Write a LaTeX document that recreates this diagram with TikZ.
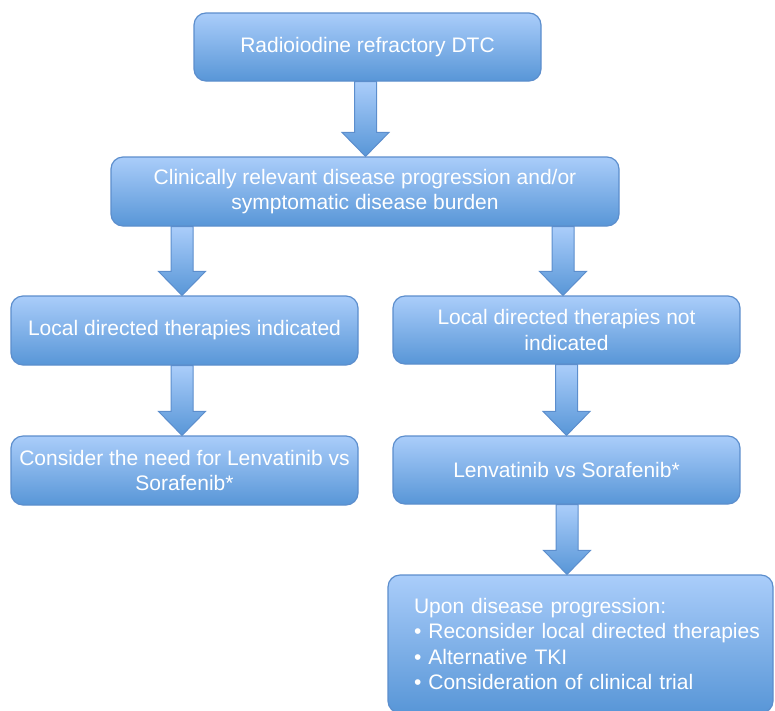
\documentclass[tikz,border=0pt]{standalone}
\usepackage{fontspec}
\setmainfont{Liberation Sans}
\usetikzlibrary{calc}
\definecolor{boxtop}{RGB}{170,205,250}
\definecolor{boxbottom}{RGB}{88,150,215}
\definecolor{boxline}{RGB}{92,142,205}
\tikzset{
  flowbox/.style={draw=boxline, line width=1.2pt, rounded corners=12pt,
    top color=boxtop, bottom color=boxbottom, text=white, align=center,
    inner sep=2pt, minimum width=347pt, minimum height=68pt,
    font=\fontsize{21}{25.5}\selectfont},
  blockarrow/.style={draw=boxline, line width=1pt, line join=miter,
    top color=boxtop, bottom color=boxbottom}
}
\newcommand{\blockarrow}[3][0pt]{%
  \path[blockarrow] let \p1=(#2.south), \p2=(#3.north) in
    (\x2+#1-11pt,\y1) -- (\x2+#1+11pt,\y1) -- (\x2+#1+11pt,\y2+24pt)
    -- (\x2+#1+23.5pt,\y2+24pt) -- (\x2+#1,\y2) -- (\x2+#1-23.5pt,\y2+24pt)
    -- (\x2+#1-11pt,\y2+24pt) -- cycle;}
\newcommand{\tabin}{\hspace*{13pt}}
\begin{document}
\begin{tikzpicture}[x=1pt, y=-1pt]
  \useasboundingbox (0,0) rectangle (775,710);

  \node[flowbox] (rai) at (367.5,47) {Radioiodine refractory DTC};
  \node[flowbox, minimum width=508pt, minimum height=69pt] (prog) at (365,191.5)
    {Clinically relevant disease progression and/or\\symptomatic disease burden};
  \node[flowbox, minimum height=69pt] (ind) at (184.5,330.5) {Local directed therapies indicated};
  \node[flowbox] (notind) at (566.5,330) {Local directed therapies not\\indicated};
  \node[flowbox, minimum height=69pt] (need) at (184.5,470.5)
    {Consider the need for Lenvatinib vs\\Sorafenib*};
  \node[flowbox] (lenva) at (566.5,470) {Lenvatinib vs Sorafenib*};
  \node[flowbox, align=left, text width=359pt, inner xsep=13pt, minimum height=138pt] (upon) at (580.5,644)
    {\tabin Upon disease progression:\\
     \tabin\textbullet\ Reconsider local directed therapies\\
     \tabin\textbullet\ Alternative TKI\\
     \tabin\textbullet\ Consideration of clinical trial};

  \blockarrow[0.5pt]{rai}{prog}
  \blockarrow[-2.5pt]{prog}{ind}
  \blockarrow[-3.5pt]{prog}{notind}
  \blockarrow[-2.5pt]{ind}{need}
  \blockarrow{notind}{lenva}
  \blockarrow[-13.5pt]{lenva}{upon}

\end{tikzpicture}
\end{document}
